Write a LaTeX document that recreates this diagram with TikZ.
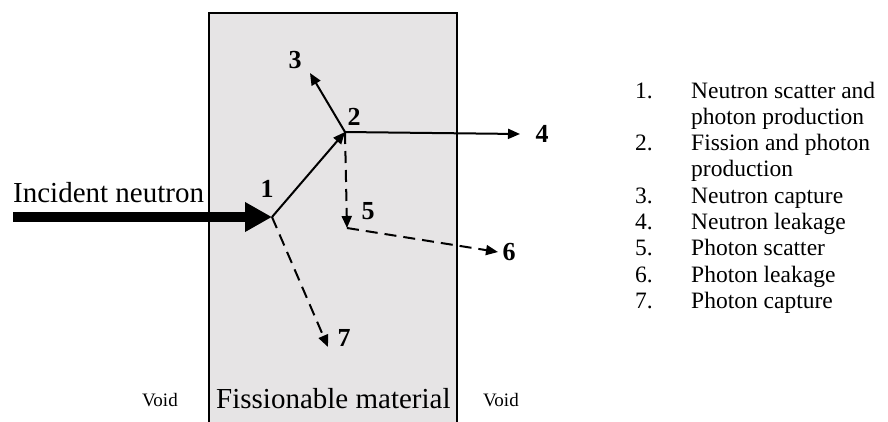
\documentclass[tikz,border=0pt]{standalone}
\usepackage{fontspec}
\setmainfont{Liberation Serif}
\usepackage{xcolor}
\usetikzlibrary{arrows.meta}

\definecolor{matgray}{HTML}{E6E4E5}

\begin{document}
\begin{tikzpicture}[
            x=1pt,y=-1pt,
            path/.style={line width=2pt,-{Triangle[length=12pt,width=10pt]}},
            photon/.style={path,dash pattern=on 12pt off 7pt},
            num/.style={font=\fontsize{26}{26}\selectfont\bfseries,inner sep=0pt},
            legend/.style={font=\fontsize{23.5}{26}\selectfont,anchor=base west,inner sep=0pt}
        ]
            \clip (0,0) rectangle (888,421);

            % Material slab
            \draw[line width=2pt,fill=matgray] (209,13) rectangle (457,430);

            % Event points
            \coordinate (S0) at (13,217);
            \coordinate (P1) at (272,217);
            \coordinate (P2) at (345,132);
            \coordinate (P5) at (347,228);
            \coordinate (E3) at (310,73);
            \coordinate (E4) at (520,134);
            \coordinate (E6) at (498,252);
            \coordinate (E7) at (328,347);

            % Incident neutron
            \draw[line width=9.5pt,-{Triangle[length=27pt,width=28pt]}] (S0) -- (P1);
            \node[font=\fontsize{29}{29}\selectfont,anchor=base west,inner sep=0pt] (inc) at (13,202) {Incident neutron};

            % Neutron paths
            \draw[path] (P1) -- (P2);
            \draw[path] (P2) -- (E3);
            \draw[path] (P2) -- (E4);

            % Photon paths
            \draw[photon] (P2) -- (P5);
            \draw[photon] (P5) -- (E6);
            \draw[photon] (P1) -- (E7);

            % Event numbers
            \node[num] (L1) at (267,189) {1};
            \node[num] (L2) at (354,117) {2};
            \node[num] (L3) at (295,60) {3};
            \node[num] (L4) at (542,134) {4};
            \node[num] (L5) at (368,211) {5};
            \node[num] (L6) at (509,252) {6};
            \node[num] (L7) at (344,338) {7};

            % Regions
            \node[font=\fontsize{29}{29}\selectfont,anchor=base west,inner sep=0pt] (mat) at (216,408) {Fissionable material};
            \node[font=\fontsize{19}{19}\selectfont,anchor=base west,inner sep=0pt] (voidl) at (142,406) {Void};
            \node[font=\fontsize{19}{19}\selectfont,anchor=base west,inner sep=0pt] (voidr) at (483,406) {Void};

            % Legend
            \foreach \n/\i/\t in {1./0/Neutron scatter and, /1/photon production,
                2./2/Fission and photon, /3/production, 3./4/Neutron capture,
                4./5/Neutron leakage, 5./6/Photon scatter, 6./7/Photon leakage,
                7./8/Photon capture} {
                \node[legend] (n\i) at (635,98+26.3*\i) {\n};
                \node[legend] (t\i) at (691,98+26.3*\i) {\t};
            }
        \end{tikzpicture}
\end{document}
